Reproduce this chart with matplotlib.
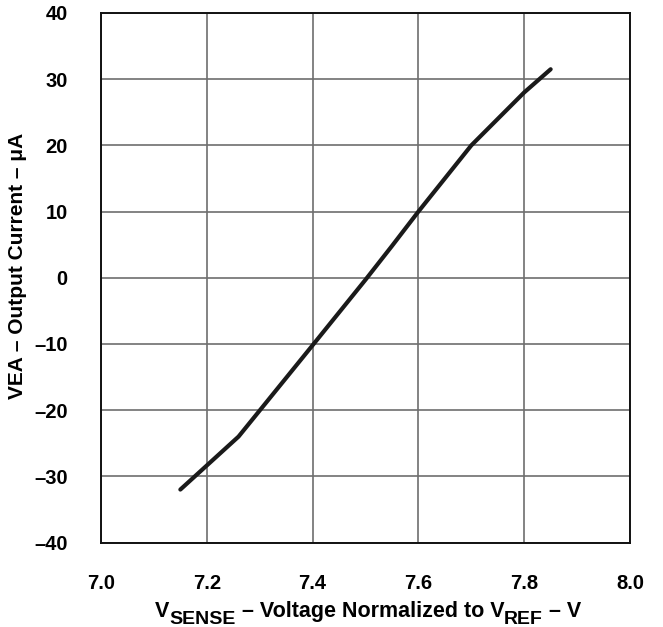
import matplotlib
matplotlib.use("Agg")
import matplotlib.pyplot as plt

# VEA output current vs normalized sense voltage
v_sense = [7.15, 7.26, 7.40, 7.50, 7.55, 7.60, 7.70, 7.80, 7.85]
i_out = [-32.0, -24.0, -10.2, -0.3, 4.8, 10.0, 20.0, 28.0, 31.5]

x_ticks = [7.0, 7.2, 7.4, 7.6, 7.8, 8.0]
y_ticks = [-40, -30, -20, -10, 0, 10, 20, 30, 40]
y_labels = ['\u201340', '\u201330', '\u201320', '\u201310', '0', '10', '20', '30', '40']

# x label pieces: (text, is_subscript)
xlabel_parts = [('V', False), ('SENSE', True), (' \u2013 Voltage Normalized to V', False),
                ('REF', True), (' \u2013 V', False)]

plt.rcParams['font.family'] = ['Liberation Sans', 'DejaVu Sans']
plt.rcParams['font.weight'] = 'bold'

fig = plt.figure(figsize=(6.63, 6.27), dpi=100)
ax = fig.add_axes([101 / 663, (627 - 542.5) / 627, 529 / 663, 529.5 / 627])

ax.plot(v_sense, i_out, color='#1a1a1a', lw=3.0, solid_capstyle='round', zorder=3)

ax.set_xlim(7.0, 8.0)
ax.set_ylim(-40, 40)
ax.set_xticks(x_ticks)
ax.set_xticklabels(['%.1f' % t for t in x_ticks])
ax.set_yticks(y_ticks)
ax.set_yticklabels(y_labels)
ax.tick_params(length=0, labelsize=14.5)
ax.tick_params(axis='y', pad=24)
ax.tick_params(axis='x', pad=23)
for lab in ax.get_xticklabels() + ax.get_yticklabels():
    lab.set_fontweight('bold')

ax.grid(True, color='#6e6e6e', lw=1.2)
ax.set_axisbelow(True)
for s in ax.spines.values():
    s.set_color('#111111')
    s.set_linewidth(1.4)

# x label built piece by piece so the subscripts stay near full size
renderer = fig.canvas.get_renderer()
base_y = 627 - 617  # baseline in pixels from bottom
texts = []
x = 0
for txt, sub in xlabel_parts:
    t = fig.text(x / 663, (base_y - (7 if sub else 0)) / 627, txt,
                 fontsize=14 if sub else 15.5, fontweight='bold',
                 ha='left', va='baseline')
    x += t.get_window_extent(renderer).width
    texts.append(t)
shift = 368 - x / 2
for t in texts:
    px, py = t.get_position()
    t.set_x(px + shift / 663)

fig.text(18 / 663, 1 - 266 / 627, 'VEA \u2013 Output Current \u2013 \u03bcA',
         ha='center', va='center', rotation=90, fontsize=15, fontweight='bold')

fig.savefig('out.png', dpi=100)
